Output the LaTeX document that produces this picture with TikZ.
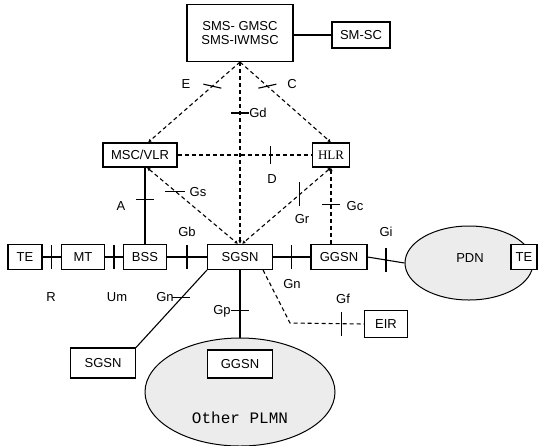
\documentclass[tikz,border=0pt]{standalone}
\usepackage{fontspec}
\setmainfont{Liberation Sans}
\newfontfamily\serifft{Liberation Serif}
\newfontfamily\monoft{Liberation Mono}
\usetikzlibrary{arrows.meta,shapes.geometric}
\begin{document}
\begin{tikzpicture}[x=1pt,y=-1pt,
  box/.style={draw,line width=1.1pt,inner sep=0pt,font=\fontsize{13}{14}\selectfont,fill=white},
  conn/.style={line width=1.1pt},
  dconn/.style={line width=1.1pt,dash pattern=on 4pt off 3pt},
  tip/.style={-{Latex[length=3.5pt,width=3.5pt]}},
  btip/.style={{Latex[length=3.5pt,width=3.5pt]}-{Latex[length=3.5pt,width=3.5pt]}},
  tick/.style={line width=1.1pt},
  lab/.style={font=\fontsize{13}{14}\selectfont,inner sep=0pt},
  cloud/.style={ellipse,draw,line width=1pt,fill=gray!15,inner sep=0pt}]
\useasboundingbox (0,0) rectangle (545,445);
% ellipses
\node[cloud,minimum width=190,minimum height=108] (plmn) at (240,392) {};
\node[cloud,minimum width=128,minimum height=74] (pdn) at (469,263) {};
% boxes
\node[box,minimum width=106,minimum height=57,align=center] (gmsc) at (240,33) {SMS- GMSC\\SMS-IWMSC};
\node[box,minimum width=58,minimum height=26] (smsc) at (361,35) {SM-SC};
\node[box,minimum width=74,minimum height=24] (msc) at (140,155) {MSC/VLR};
\node[box,minimum width=37,minimum height=24,font=\serifft\fontsize{13}{14}\selectfont] (hlr) at (331,155) {HLR};
\node[box,minimum width=34,minimum height=25] (te1) at (25,257) {TE};
\node[box,minimum width=43,minimum height=25] (mt) at (83,257) {MT};
\node[box,minimum width=43,minimum height=25] (bss) at (145,257) {BSS};
\node[box,minimum width=65,minimum height=25] (sgsn) at (240,257) {SGSN};
\node[box,minimum width=56,minimum height=25] (ggsn) at (339,257) {GGSN};
\node[box,minimum width=26,minimum height=25] (te2) at (524,257) {TE};
\node[box,minimum width=43,minimum height=27] (eir) at (386,324) {EIR};
\node[box,minimum width=65,minimum height=30] (sgsn2) at (103,363) {SGSN};
\node[box,minimum width=65,minimum height=28] (ggsn2) at (240,364) {GGSN};
\node[font=\monoft\fontsize{16}{17}\selectfont] (plmnlab) at (240,418) {Other PLMN};
\node[font=\fontsize{13}{14}\selectfont] (pdnlab) at (470,258) {PDN};
% solid connectors
\draw[conn] (gmsc.east |- smsc) -- (smsc.west);
\draw[conn] (te1) -- coordinate (tR) (mt);
\draw[conn] (mt) -- coordinate (tUm) (bss);
\draw[conn] (bss) -- coordinate (tGb) (sgsn);
\draw[conn] (sgsn) -- coordinate (tGn) (ggsn);
\draw[conn] (ggsn.east) -- coordinate[pos=0.5] (tGi) (pdn.west);
\draw[conn] (msc.south -| bss) -- coordinate[pos=0.42] (tA) (bss.north);
\draw[conn] (sgsn.south west) -- coordinate[pos=0.36] (tGn2) (sgsn2.north east);
\draw[conn] (sgsn.south) -- coordinate[pos=0.6] (tGp) (plmn.north);
% dashed connectors
\coordinate (gbot) at (gmsc.south);
\draw[dconn,tip] (gbot) -- coordinate[pos=0.3] (tE) ([xshift=8]msc.north);
\draw[dconn,tip] (gbot) -- coordinate[pos=0.3] (tC) (hlr.north);
\draw[dconn,tip] (gbot) -- coordinate[pos=0.28] (tGd) (sgsn.north);
\draw[dconn] (msc) -- coordinate[pos=0.69] (tD) (hlr);
\draw[dconn,btip] ([xshift=7]msc.south) -- coordinate[pos=0.31] (tGs) ([xshift=-2]sgsn.north);
\draw[dconn,btip] (hlr.south) -- coordinate[pos=0.35] (tGr) ([xshift=2]sgsn.north);
\draw[dconn,tip] (ggsn.north -| hlr.south) -- coordinate[pos=0.52] (tGc) (hlr.south);
\coordinate (bend) at (290,323);
\draw[dconn] ([xshift=-10]sgsn.south east) -- (bend) -- coordinate[pos=0.7] (tGf) (eir.west);
% ticks
\foreach \t in {tR,tUm,tGb,tGn,tGi}
  \draw[tick] ([yshift=-12]\t) -- ([yshift=12]\t);
\draw[tick] ([yshift=-9]tD) -- ([yshift=9]tD);
\draw[tick] ([yshift=-12]tGf) -- ([yshift=12]tGf);
\draw[tick] ([yshift=-12]tGr) -- ([yshift=12]tGr);
\foreach \t in {tA,tGc,tGd,tGp,tGn2}
  \draw[tick] ([xshift=-9]\t) -- ([xshift=9]\t);
\draw[tick] ([xshift=-10]tGs) -- ([xshift=10]tGs);
\draw[tick] ([xshift=-9,yshift=2]tE) -- ([xshift=9,yshift=-2]tE);
\draw[tick] ([xshift=-9,yshift=-2]tC) -- ([xshift=9,yshift=2]tC);
% labels
\node[lab] (lR) at (51,297) {R};
\node[lab] (lUm) at (117,297) {Um};
\node[lab] (lGn2) at (165,297) {Gn};
\node[lab] (lGp) at (222,311) {Gp};
\node[lab] (lGn) at (292,284) {Gn};
\node[lab] (lGf) at (343,299) {Gf};
\node[lab] (lGb) at (187,232) {Gb};
\node[lab] (lGi) at (386,232) {Gi};
\node[lab] (lA) at (121,206) {A};
\node[lab] (lGs) at (198,192) {Gs};
\node[lab] (lD) at (272,179) {D};
\node[lab] (lGr) at (302,219) {Gr};
\node[lab] (lGc) at (355,206) {Gc};
\node[lab] (lGd) at (258,113) {Gd};
\node[lab] (lE) at (186,84) {E};
\node[lab] (lC) at (292,84) {C};
\end{tikzpicture}
\end{document}
